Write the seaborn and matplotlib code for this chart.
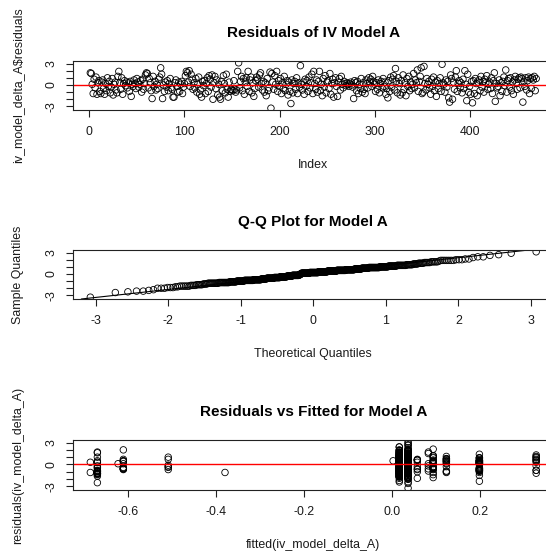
import statistics

import numpy as np
import pandas as pd
import matplotlib
matplotlib.use("Agg")
import matplotlib.pyplot as plt
import seaborn as sns

# Residuals of the IV model, in observation order
residuals = [
    1.7, 1.6, 0.1, -1.2, 0.8, -0.4, 1.1, -1.3, 0.3, 0.6,
    -0.9, -1.2, 0.4, 0.7, -0.5, -1.3, 0.2, -0.8, 1.0, -0.2,
    0.5, -1.1, -0.3, 0.9, -1.4, 0.1, 0.4, -0.7, -1.1, 1.2,
    1.9, 0.3, -0.6, 1.0, -1.3, 0.2, 0.6, -0.1, 0.4, -0.4,
    0.3, -0.9, 0.5, -1.6, 0.1, -0.2, 0.7, 0.2, -0.5, 0.9,
    0.4, -0.3, 0.1, 0.6, -1.0, 0.8, -0.6, 0.2, 1.4, 1.7,
    1.6, -0.4, 0.9, 0.3, -0.8, -1.9, 1.2, -0.2, 0.5, -0.7,
    0.1, -0.5, 0.8, 1.1, 2.4, 1.5, -1.9, 0.0, -0.9, 0.4,
    -0.3, 0.6, -0.8, 0.2, 0.9, -0.4, -0.6, -1.7, -1.7, 0.3,
    0.7, -0.2, -1.0, 0.4, -0.9, 0.1, 0.5, -1.2, -0.3, 0.2,
    1.3, 1.9, 1.7, 0.4, 2.0, -0.2, 1.5, 0.8, -0.6, 0.3,
    -0.4, 0.9, -1.0, 0.1, 1.1, -1.3, -0.7, -1.7, 0.5, -0.1,
    0.6, -1.2, 0.2, 1.0, -0.9, 1.3, 0.8, -0.3, 1.4, -2.0,
    0.3, 1.2, -0.5, 0.7, -1.4, 0.1, -1.7, -2.0, 0.5, -0.8,
    1.3, 0.2, -1.1, 1.5, -0.6, -1.7, 0.4, -0.9, -0.6, -0.7,
    -0.8, 0.6, -0.6, -1.0, -0.7, 1.9, 3.1, -0.4, 0.5, 1.2,
    -0.8, 0.9, -1.3, 0.4, 1.0, -0.2, 1.9, -0.9, 0.7, 1.1,
    -1.1, 0.3, -1.6, -0.5, 0.6, 1.1, 0.8, -0.3, 1.4, 1.7,
    0.2, -0.7, 0.5, -1.0, 0.3, -1.5, 0.9, -0.8, -0.4, 1.8,
    -3.25, 1.6, 0.4, -0.6, 1.3, 0.1, 1.9, -0.9, 0.6, -0.2,
    0.9, -1.2, 0.3, -0.5, 1.2, -0.8, 0.1, 0.6, -1.4, 0.4,
    -0.9, -2.6, 0.7, -1.1, 0.2, 0.5, -0.6, 1.0, -1.2, 0.3,
    -0.3, 2.7, 0.1, -0.7, 0.4, -1.3, 0.8, -0.2, 0.6, -0.9,
    1.1, -0.4, 0.3, 1.5, -1.2, 1.9, 0.2, -0.6, 0.7, -1.0,
    0.5, 1.9, -0.8, 0.1, -1.5, 0.9, -0.3, 1.3, -1.1, 0.4,
    0.6, -0.5, 1.6, -1.3, 0.2, 0.8, -1.7, 0.3, 1.0, -0.2,
    -1.6, 0.4, 0.9, -0.7, 1.2, 0.1, -0.4, 0.5, 0.2, -0.1,
    0.3, 0.1, -0.2, 0.2, 0.4, 0.0, -0.3, -1.9, 0.6, 0.3,
    -0.8, 0.5, -1.2, 0.1, -0.5, 0.9, -1.0, 0.3, -0.6, -1.2,
    0.7, 0.2, -0.4, 1.0, 0.4, 0.8, -0.2, 1.2, 0.5, 0.1,
    -0.9, 0.3, -0.6, 0.7, -1.1, 0.2, 0.5, -0.4, 0.9, -0.2,
    0.4, -1.3, -0.5, -1.8, 0.6, -0.9, 1.1, -0.3, 0.8, 1.3,
    -0.7, 2.3, 0.5, -1.1, 1.0, 0.2, -1.4, 0.6, -1.1, 1.4,
    -0.6, 0.3, -1.5, 0.9, -0.2, 1.2, -0.8, 0.4, -0.5, 0.1,
    1.6, -0.4, 0.7, 0.3, 2.1, -0.9, 0.5, 1.2, 2.4, -1.2,
    -1.0, 2.6, 0.2, -0.7, 0.9, 0.1, 0.5, -0.4, -1.3, 0.8,
    -0.2, 1.1, -0.8, 0.4, -1.6, 0.6, -0.5, 0.2, 1.0, -0.9,
    2.9, 0.3, 0.1, -1.0, 0.7, -0.3, 0.5, -1.8, -2.4, 1.4,
    0.9, -2.0, 0.4, -0.6, 1.1, 2.0, -0.9, 0.2, 0.6, -0.4,
    0.3, -1.1, 0.8, -0.5, 2.0, 0.1, -2.2, 1.5, -1.0, -0.2,
    -1.3, 0.5, -2.5, 0.6, -1.2, 0.9, 0.2, -1.5, 0.4, 0.7,
    -0.8, 1.2, -0.3, 0.5, -1.0, 0.8, 0.3, 1.3, -0.6, 0.1,
    0.4, -0.5, 1.0, -1.2, 0.6, 1.7, -2.3, 0.2, -0.4, -0.2,
    0.7, -1.5, 0.3, -0.9, 0.5, 1.1, -0.1, 2.1, -1.0, 0.6,
    0.9, -0.3, 1.0, -0.8, 0.4, -1.3, 0.7, 1.2, 0.2, -0.6,
    0.8, 1.0, -0.4, 1.1, 0.9, -2.4, 0.5, -0.2, 1.0, -0.7,
    0.6, 1.1, -1.2, 0.9, -0.5, 1.0, 0.7, 1.2, -0.8, 0.9,
]

# Fitted-value group of each observation (one letter per observation)
fitted_codes = "".join([
    "hblbmnoiaj", "nbhdhbnili", "gahnbidlni", "hidobinehl", "hnhbmijili",
    "nicobidnhk", "hbhlnihine", "hlhihkhimi", "libnhdnihi", "eojibnhbmi",
    "hihidihiki", "lobnhidini", "lonebimihi", "nibilnhidi", "oifinihbhi",
    "hjhiniiihl", "hihnhbhkhi", "lihdhmhihb", "hnoilihnhi", "iihnhihiji",
    "hibilidihm", "hinihbjihi", "hihilihihn", "hebihihimi", "nioihlhihi",
    "mihinihibi", "hlhjhihdhi", "hkhihnejhi", "oibihimidi", "hilihikini",
    "hjhimihini", "hihlhihjhi", "hihihihihn", "lihihihnhi", "hioilihihi",
    "himihilihi", "hihihinihi", "iihihihihi", "hihihihlhi", "hihihihihi",
    "hibihnhihi", "hihmhioili", "hihihinihi", "hnhihihihi", "hihimihihi",
    "hihihihihi", "hihihihihi",
])

# Fitted value of each group
fitted_levels = {
    "a": -0.686, "b": -0.670, "c": -0.623, "d": -0.611, "e": -0.509,
    "f": -0.380, "g": 0.002, "h": 0.016, "i": 0.036, "j": 0.057,
    "k": 0.082, "l": 0.093, "m": 0.123, "n": 0.198, "o": 0.327,
}

titles = ["Residuals of IV Model A", "Q-Q Plot for Model A",
          "Residuals vs Fitted for Model A"]
x_labels = ["Index", "Theoretical Quantiles", "fitted(iv_model_delta_A)"]
y_labels = ["iv_model_delta_A$residuals", "Sample Quantiles",
            "residuals(iv_model_delta_A)"]
x_ticks = [[0, 100, 200, 300, 400], [-3, -2, -1, 0, 1, 2, 3],
           [-0.6, -0.4, -0.2, 0.0, 0.2]]
x_tick_labels = [["0", "100", "200", "300", "400"],
                 ["-3", "-2", "-1", "0", "1", "2", "3"],
                 ["-0.6", "-0.4", "-0.2", "0.0", "0.2"]]
y_ticks = [-3, -2, -1, 0, 1, 2, 3]
y_tick_labels = ["-3", "", "", "0", "", "", "3"]

# ---- derived tables -------------------------------------------------------
n = len(residuals)
df = pd.DataFrame({
    "index": np.arange(1, n + 1),
    "residual": residuals,
    "fitted": [fitted_levels[c] for c in fitted_codes],
})

nd = statistics.NormalDist()
qq = pd.DataFrame({
    "theoretical": [nd.inv_cdf((i - 0.5) / n) for i in range(1, n + 1)],
    "sample": np.sort(df["residual"].to_numpy()),
})
q_y = np.quantile(df["residual"], [0.25, 0.75])
q_x = np.array([nd.inv_cdf(0.25), nd.inv_cdf(0.75)])
qq_slope = (q_y[1] - q_y[0]) / (q_x[1] - q_x[0])


def padded(lo, hi):
    d = (hi - lo) * 0.04
    return lo - d, hi + d


# ---- styling --------------------------------------------------------------
sns.set_theme(style="white")
plt.rcParams["font.family"] = ["Liberation Sans", "DejaVu Sans"]
plt.rcParams["axes.edgecolor"] = "#222222"
plt.rcParams["axes.linewidth"] = 0.8

W, H = 546, 558
fig = plt.figure(figsize=(W / 100, H / 100), dpi=100)
fig.patch.set_facecolor("white")

left, right = 72.5, 554
boxes = [(61, 110), (250, 299), (440, 490)]
axes = [fig.add_axes([left / W, 1 - b / H, (right - left) / W, (b - t) / H])
        for t, b in boxes]

point_kw = dict(marker="o", s=22, facecolor="none", edgecolor="black",
                linewidth=0.6, legend=False)

ax1, ax2, ax3 = axes
sns.scatterplot(data=df, x="index", y="residual", ax=ax1, **point_kw)
ax1.axhline(0, color="red", linewidth=1.0)
ax1.set_xlim(*padded(1, n))

sns.scatterplot(data=qq, x="theoretical", y="sample", ax=ax2, **point_kw)
ax2.axline((q_x[0], q_y[0]), slope=qq_slope, color="black", linewidth=0.8)
ax2.set_xlim(*padded(qq["theoretical"].min(), qq["theoretical"].max()))

sns.scatterplot(data=df, x="fitted", y="residual", ax=ax3, **point_kw)
ax3.axhline(0, color="red", linewidth=1.0)
ax3.set_xlim(*padded(df["fitted"].min(), df["fitted"].max()))

ylim = padded(df["residual"].min(), df["residual"].max())
for k, ax in enumerate(axes):
    ax.set_ylim(*ylim)
    ax.set_xticks(x_ticks[k])
    ax.set_xticklabels(x_tick_labels[k])
    ax.set_yticks(y_ticks)
    ax.set_yticklabels(y_tick_labels)
    ax.tick_params(axis="both", direction="out", length=5, width=0.8,
                   color="#222222", labelsize=8.9, labelcolor="#1a1a1a",
                   left=True, bottom=True)
    ax.tick_params(axis="x", pad=6.5)
    ax.tick_params(axis="y", pad=6, labelrotation=90)
    for lab in ax.get_yticklabels():
        lab.set_verticalalignment("center")
    ax.set_xlabel(x_labels[k], fontsize=8.9, color="#1a1a1a", labelpad=15)
    ax.set_ylabel(y_labels[k], fontsize=8.9, color="#1a1a1a", labelpad=15)
    ax.set_title(titles[k], fontsize=11, fontweight="bold", pad=17,
                 x=0.5, color="black")
    for s in ax.spines.values():
        s.set_visible(True)

fig.savefig("out.png", dpi=100, facecolor="white")
